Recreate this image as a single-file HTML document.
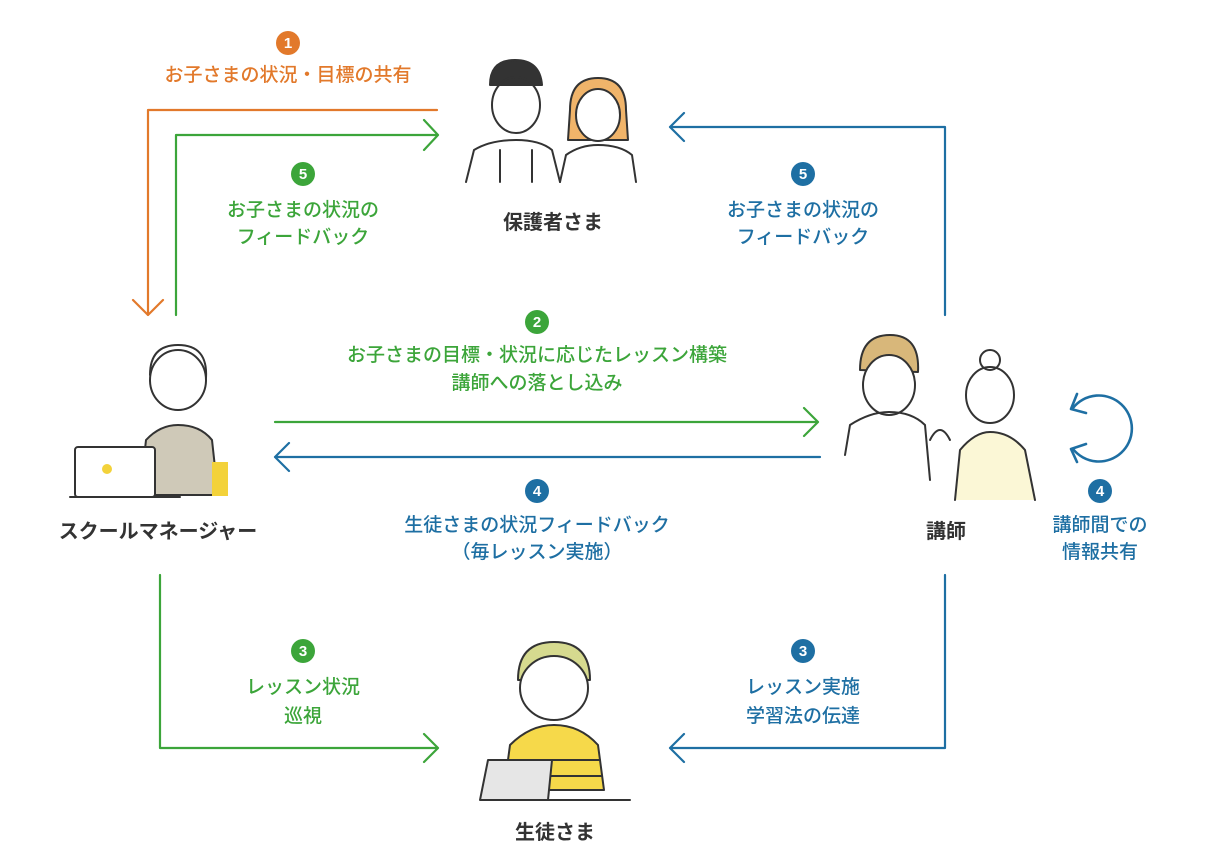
<!DOCTYPE html>
<html><head><meta charset="utf-8"><style>
html,body{margin:0;padding:0;background:#fff;}
svg{display:block;}
text{font-family:"Liberation Sans","Noto Sans CJK JP",sans-serif;text-anchor:middle;}
.o{fill:#e2792b;}.g{fill:#3ca53a;}.b{fill:#1e6fa3;}
.lbl{font-size:19px;font-weight:500;}
.nm{font-size:20px;font-weight:700;fill:#333;}
.n{font-size:15px;font-weight:700;fill:#fff;}
.ink{fill:none;stroke:#333;stroke-width:2;stroke-linecap:round;stroke-linejoin:round;}
</style></head><body>
<svg width="1209" height="866" viewBox="0 0 1209 866" xmlns="http://www.w3.org/2000/svg">
<g fill="none" stroke-width="2.2" stroke-linecap="round" stroke-linejoin="round">
<path d="M437 110H148V315M133 300L148 315L163 300" stroke="#e2792b"/>
<path d="M176 315V135H438M424 120L438 135L424 150" stroke="#3ca53a"/>
<path d="M945 315V127H670M684 113L670 127L684 141" stroke="#1e6fa3"/>
<path d="M275 422H818M804 408L818 422L804 436" stroke="#3ca53a"/>
<path d="M820 457H275M289 443L275 457L289 471" stroke="#1e6fa3"/>
<path d="M160 575V748H438M424 734L438 748L424 762" stroke="#3ca53a"/>
<path d="M945 575V748H670M684 734L670 748L684 762" stroke="#1e6fa3"/>
<path d="M1073 408A33 33 0 1 1 1073 449" stroke="#1e6fa3" stroke-width="2.6"/>
<path d="M1077 394L1071 409L1086 413" stroke="#1e6fa3" stroke-width="2.6"/>
<path d="M1086 444L1071 449L1077 462" stroke="#1e6fa3" stroke-width="2.6"/>
</g>
<circle cx="288" cy="43" r="12" class="o"/><text x="288" y="48" class="n">1</text>
<text x="288" y="81" class="lbl o">お子さまの状況・目標の共有</text>
<circle cx="303" cy="174" r="12" class="g"/><text x="303" y="179" class="n">5</text>
<text x="303" y="216" class="lbl g">お子さまの状況の</text><text x="303" y="243" class="lbl g">フィードバック</text>
<circle cx="803" cy="174" r="12" class="b"/><text x="803" y="179" class="n">5</text>
<text x="803" y="216" class="lbl b">お子さまの状況の</text><text x="803" y="243" class="lbl b">フィードバック</text>
<circle cx="537" cy="322" r="12" class="g"/><text x="537" y="327" class="n">2</text>
<text x="537" y="361" class="lbl g">お子さまの目標・状況に応じたレッスン構築</text><text x="537" y="389" class="lbl g">講師への落とし込み</text>
<circle cx="537" cy="491" r="12" class="b"/><text x="537" y="496" class="n">4</text>
<text x="537" y="531" class="lbl b">生徒さまの状況フィードバック</text><text x="537" y="558" class="lbl b">（毎レッスン実施）</text>
<circle cx="303" cy="651" r="12" class="g"/><text x="303" y="656" class="n">3</text>
<text x="303" y="693" class="lbl g">レッスン状況</text><text x="303" y="722" class="lbl g">巡視</text>
<circle cx="803" cy="651" r="12" class="b"/><text x="803" y="656" class="n">3</text>
<text x="803" y="693" class="lbl b">レッスン実施</text><text x="803" y="722" class="lbl b">学習法の伝達</text>
<circle cx="1100" cy="491" r="12" class="b"/><text x="1100" y="496" class="n">4</text>
<text x="1100" y="531" class="lbl b">講師間での</text><text x="1100" y="558" class="lbl b">情報共有</text>
<text x="553" y="229" class="nm">保護者さま</text>
<text x="158" y="538" class="nm">スクールマネージャー</text>
<text x="946" y="538" class="nm">講師</text>
<text x="555" y="839" class="nm">生徒さま</text>
<g class="ink">
<path d="M490 85Q490 60 515 60Q540 60 542 85Z" fill="#333"/>
<ellipse cx="516" cy="105" rx="24" ry="28"/>
<path d="M466 182L474 150Q490 140 516 140Q540 140 552 150L560 182"/>
<path d="M500 150V182M532 150V182"/>
<path d="M570 110Q570 78 598 78Q626 78 626 110L628 140H568Z" fill="#f0b46a"/>
<ellipse cx="598" cy="115" rx="22" ry="26" fill="#fff"/>
<path d="M560 182L566 155Q580 145 598 145Q620 145 632 155L636 182"/>
</g>
<g class="ink">
<ellipse cx="178" cy="380" rx="28" ry="30"/>
<path d="M150 375Q150 345 178 345Q208 345 206 378"/>
<path d="M140 495L146 440Q160 425 178 425Q200 425 212 440L218 495Z" fill="#cfc9b8"/>
<rect x="75" y="447" width="80" height="50" rx="3" fill="#fff"/>
<circle cx="107" cy="469" r="5" fill="#f3d23a" stroke="none"/>
<path d="M70 497H180"/>
<rect x="212" y="462" width="16" height="34" fill="#f3d23a" stroke="none"/>
</g>
<g class="ink">
<path d="M860 370Q860 335 890 335Q920 335 918 372Z" fill="#d8b77a"/>
<ellipse cx="889" cy="385" rx="26" ry="30" fill="#fff"/>
<path d="M845 455L850 425Q870 412 889 412Q912 412 925 425L930 480"/>
<ellipse cx="990" cy="395" rx="24" ry="28"/>
<circle cx="990" cy="360" r="10"/>
<path d="M955 500L960 450Q975 432 990 432Q1010 432 1025 450L1035 500" fill="#fbf7d6"/>
<path d="M930 440Q940 420 950 440"/>
</g>
<g class="ink">
<path d="M518 680Q518 642 554 642Q590 642 590 680Z" fill="#d6da8f"/>
<ellipse cx="554" cy="688" rx="34" ry="32" fill="#fff"/>
<path d="M504 790L510 745Q530 725 554 725Q580 725 598 745L604 790Z" fill="#f6d94a"/>
<path d="M510 760H600M508 776H602"/>
<path d="M480 800L488 760H552L548 800Z" fill="#e6e6e6"/>
<path d="M540 800H630"/>
</g>
</svg>
</body></html>
